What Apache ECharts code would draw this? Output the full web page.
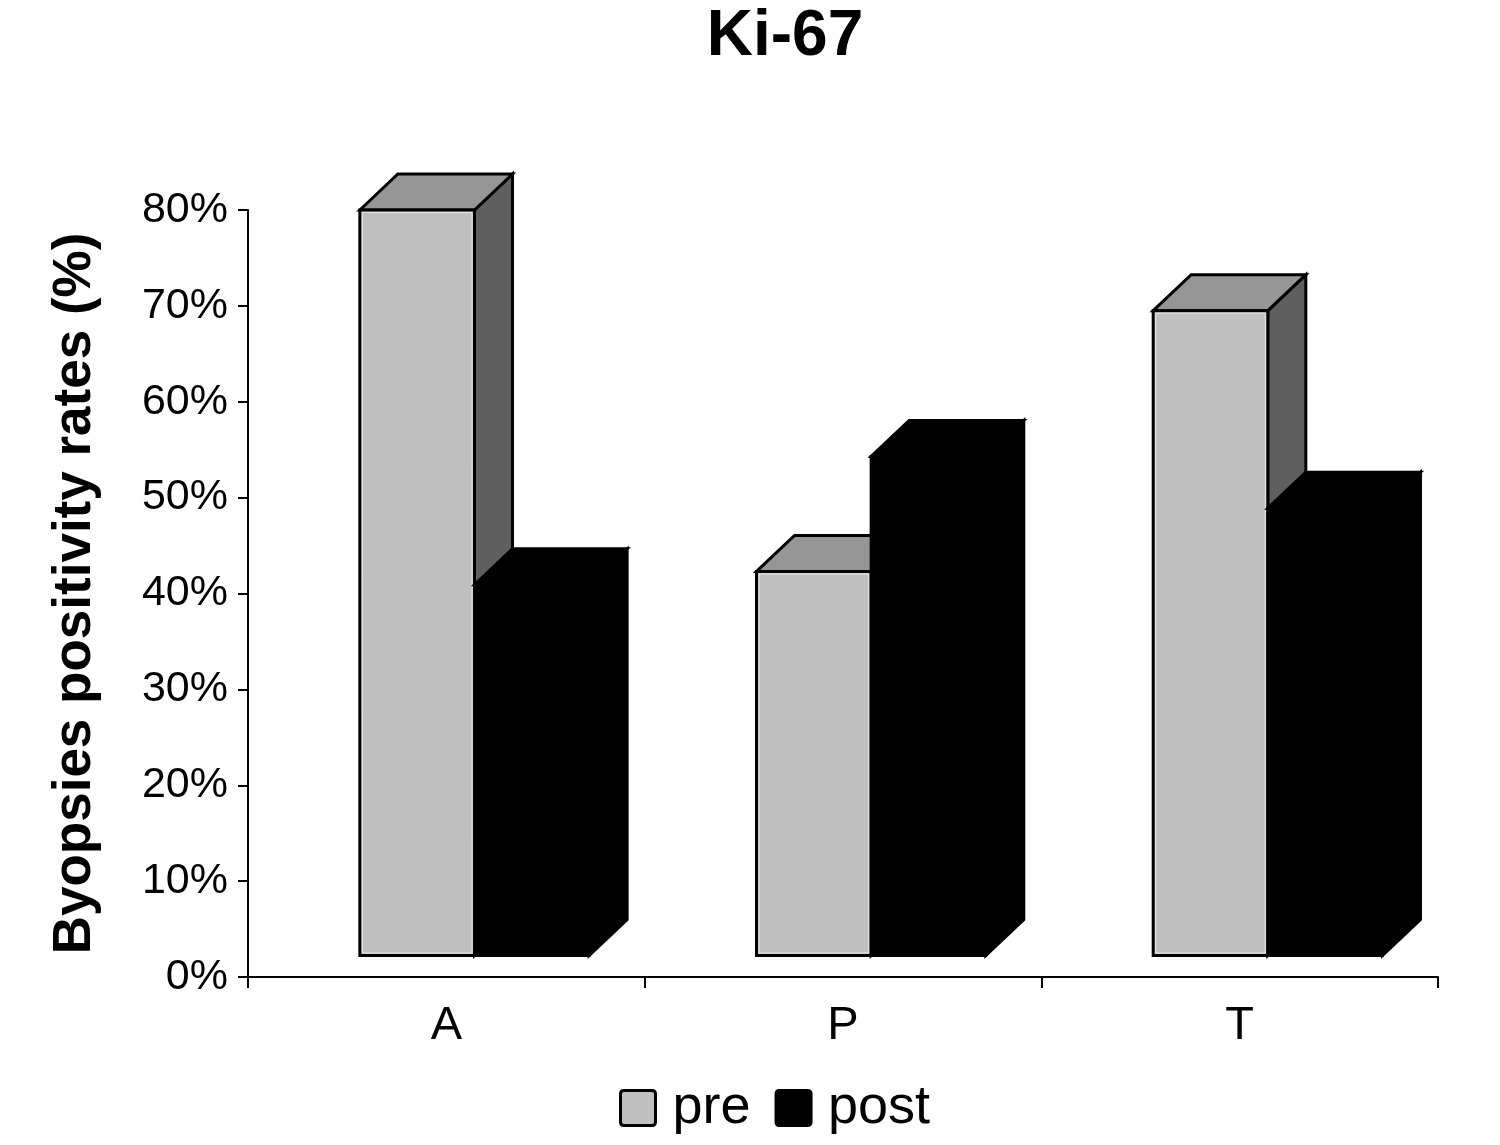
<!DOCTYPE html>
<html>
<head>
<meta charset="utf-8">
<script src="https://cdn.jsdelivr.net/npm/echarts@6/dist/echarts.min.js"></script>
<style>html,body{margin:0;padding:0;background:#fff;}#chart{width:1500px;height:1145px;}</style>
</head>
<body>
<div id="chart"></div>
<script>
const categories = ['A', 'P', 'T'];
const preValues = [80, 42.3, 69.5];
const postValues = [40.9, 54.3, 48.9];
const yMin = 0, yMax = 80, yInterval = 10;

const FONT = "'Liberation Sans', Arial, sans-serif";

function makeRender(offset, frontColor, topColor, sideColor, highlight) {
  return function (params, api) {
    const idx = api.value(0);
    const v = api.value(1);
    const c = api.coord([idx, v]);
    const c0 = api.coord([idx, 0]);
    const band = api.size([1, 0])[0];
    const w = band * 0.289;
    const x0 = c[0] + band * offset;
    const x1 = x0 + w;
    const dx = 38, dy = -36;
    const yT = c[1];
    const yB = c0[1] - 21.5;
    const stroke = { stroke: '#000', lineWidth: 3, lineJoin: 'miter' };
    const children = [
      { type: 'polygon', shape: { points: [[x1, yT], [x1 + dx, yT + dy], [x1 + dx, yB + dy], [x1, yB]] },
        style: Object.assign({ fill: sideColor }, stroke) },
      { type: 'polygon', shape: { points: [[x0, yT], [x0 + dx, yT + dy], [x1 + dx, yT + dy], [x1, yT]] },
        style: Object.assign({ fill: topColor }, stroke) },
      { type: 'rect', shape: { x: x0, y: yT, width: w, height: yB - yT },
        style: Object.assign({ fill: frontColor }, stroke) }
    ];
    if (highlight) {
      children.push({ type: 'rect', shape: { x: x0 + 2.5, y: yT + 2.5, width: w - 5, height: yB - yT - 5 },
        style: { fill: 'none', stroke: highlight, lineWidth: 1 } });
    }
    return { type: 'group', children: children };
  };
}

const chart = echarts.init(document.getElementById('chart'));
chart.setOption({
  backgroundColor: '#fff',
  animation: false,
  title: {
    text: 'Ki-67', left: 780, top: 0, textAlign: 'center',
    textStyle: { fontFamily: FONT, fontSize: 64, fontWeight: 'bold', color: '#000' }
  },
  legend: {
    left: 614, top: 1076, itemWidth: 35, itemHeight: 35, itemGap: 24,
    icon: 'path://M2,0 L18,0 Q20,0 20,2 L20,18 Q20,20 18,20 L2,20 Q0,20 0,18 L0,2 Q0,0 2,0 Z',
    textStyle: { fontFamily: FONT, fontSize: 54, color: '#000', padding: [0, 0, 0, 12] },
    data: [
      { name: 'pre', itemStyle: { color: '#c0c0c0', borderColor: '#000', borderWidth: 3 } },
      { name: 'post', itemStyle: { color: '#000', borderColor: '#000', borderWidth: 3 } }
    ]
  },
  grid: { left: 248, right: 62, top: 210, bottom: 168, containLabel: false },
  xAxis: {
    type: 'category', data: categories, boundaryGap: true,
    axisLine: { lineStyle: { color: '#000', width: 2 } },
    axisTick: { show: true, alignWithLabel: false, length: 11, lineStyle: { color: '#000', width: 2 } },
    axisLabel: { fontFamily: FONT, fontSize: 47, color: '#000', margin: 26 },
    splitLine: { show: false }
  },
  yAxis: {
    type: 'value', min: yMin, max: yMax, interval: yInterval,
    name: 'Byopsies positivity rates (%)', nameLocation: 'middle', nameGap: 146, nameRotate: 90,
    nameTextStyle: { fontFamily: FONT, fontSize: 53, fontWeight: 'bold', color: '#000' },
    axisLine: { show: true, lineStyle: { color: '#000', width: 2 } },
    axisTick: { show: true, length: 10, lineStyle: { color: '#000', width: 2 } },
    axisLabel: { fontFamily: FONT, fontSize: 43, color: '#000', margin: 20, formatter: '{value}%' },
    splitLine: { show: false }
  },
  series: [
    {
      name: 'pre', type: 'custom', clip: false,
      itemStyle: { color: '#c0c0c0', borderColor: '#000', borderWidth: 3 },
      renderItem: makeRender(-0.218, '#c0c0c0', '#969696', '#5f5f5f', '#e6e6e6'),
      encode: { x: 0, y: 1 },
      data: preValues.map((v, i) => [i, v])
    },
    {
      name: 'post', type: 'custom', clip: false,
      itemStyle: { color: '#000', borderColor: '#000', borderWidth: 3 },
      renderItem: makeRender(-0.218 + 0.289, '#000', '#000', '#000', null),
      encode: { x: 0, y: 1 },
      data: postValues.map((v, i) => [i, v])
    }
  ]
});
</script>
</body>
</html>
